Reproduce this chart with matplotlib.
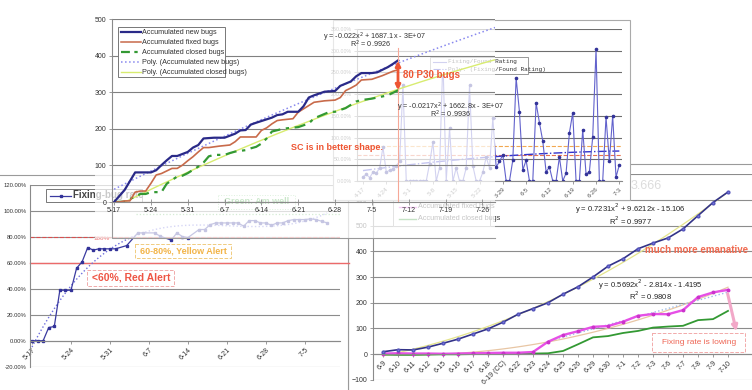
import numpy as np
import matplotlib
matplotlib.use("Agg")
import matplotlib.pyplot as plt
import matplotlib.transforms as mtransforms
from matplotlib.patches import Rectangle, FancyArrowPatch
from matplotlib.lines import Line2D

plt.rcParams['font.family'] = ['Liberation Sans', 'DejaVu Sans']

W, H = 752, 390

# ---- top-left chart: accumulated bugs, x = days since 5-17
tl_ticks = ['5-17', '5-24', '5-31', '6-7', '6-14', '6-21', '6-28', '7-5', '7-12', '7-19', '7-26']
tl_new_days = [0, 2, 4, 5, 7, 8, 9, 10, 11, 12, 14, 15, 16, 17, 18, 19, 21, 23, 24, 25, 26,
               27, 30, 31, 32, 33, 35, 36, 37, 38, 40, 42, 43, 45, 46, 47, 49, 50, 52, 53, 54]
tl_new = [0, 33, 81, 81, 81, 87, 101, 114, 126, 126, 137, 149, 156, 174, 175, 176, 176, 187, 196, 197, 212,
          217, 231, 238, 240, 247, 247, 262, 286, 292, 302, 304, 318, 330, 344, 353, 353, 355, 369, 378, 388]
tl_fixed_days = [0, 1, 2, 3, 4, 5, 6, 7, 8, 9, 11, 12, 13, 14, 15, 16, 17, 18, 20, 22, 23, 24,
                 27, 28, 29, 30, 31, 32, 34, 35, 36, 38, 40, 42, 43, 44, 45, 46, 47, 49, 51, 53, 54]
tl_fixed = [0, 0, 3, 3, 27, 30, 30, 51, 74, 78, 92, 92, 101, 113, 124, 137, 149, 149, 153, 156, 165, 178,
            178, 196, 203, 214, 223, 225, 228, 246, 255, 273, 277, 279, 286, 305, 312, 320, 334, 336, 346, 358, 362]
tl_closed_days = [0, 2, 4, 5, 6, 7, 9, 10, 12, 13, 14, 16, 17, 18, 19, 21, 22, 23, 25, 26, 27, 28,
                  29, 30, 32, 33, 35, 37, 38, 40, 41, 42, 44, 45, 46, 47, 49, 52, 54]
tl_closed = [0, 1, 15, 22, 22, 27, 27, 50, 70, 72, 79, 97, 108, 125, 129, 129, 134, 138, 142, 147, 151, 160,
             174, 193, 200, 202, 205, 215, 229, 241, 247, 247, 257, 266, 275, 279, 283, 292, 306]

# ---- top-right chart: fixing/found rating, daily from 4-17
tr_ticks = ['4-17', '4-24', '5-1', '5-8', '5-15', '5-22', '5-29', '6-5', '6-12', '6-19', '6-26', '7-3']
tr_rating = [0.10, 0.15, 0.08, 0.20, 0.18, 0.30, 0.78, 0.20, 0.25, 0.28, 0.35, 0.45, 2.20, 0, 0, 0,
             0, 0, 0, 0, 0.40, 0.90, 0, 0.30, 2.80, 0, 1.22, 0, 0.30, 0, 0, 0.30, 2.20, 0.35, 0, 0,
             0.20, 0.55, 0.30, 1.45, 0.32, 0.45, 0.60, 0, 0, 0.48, 2.37, 1.59, 0.25, 0.48, 0, 0,
             1.80, 1.34, 0.92, 0.21, 0.32, 0, 0, 0.55, 0, 0.18, 1.11, 1.57, 0, 0, 1.18, 0.16, 0.21,
             1.01, 3.03, 0, 0, 1.47, 0.46, 1.50, 0.09, 0.37]

# ---- bottom-left chart: fixing-bug rate (%), x = days since 5-17
bl_ticks = ['5-17', '5-24', '5-31', '6-7', '6-14', '6-21', '6-28', '7-5']
bl_days = [0, 1, 2, 3, 4, 5, 6, 7, 8, 9, 10, 11, 12, 13, 14, 15, 17, 19, 20, 22, 23, 25, 26, 27, 28,
           30, 31, 32, 33, 34, 35, 36, 37, 38, 39, 40, 41, 42, 43, 44, 45, 46, 47, 48, 49, 50, 51, 52, 53]
bl_rate = [0, 0, 0, 10.2, 11, 39, 39, 39, 56, 61, 72, 70, 71, 71, 71, 71, 73.5, 83.3, 83.3, 83.3, 80.8,
           77.7, 83.3, 80.5, 79.7, 85.9, 85.9, 89.7, 91, 91, 91, 91, 91, 88.5, 92.8, 92.8, 91, 91, 89.2,
           91, 91, 92.8, 93.6, 93.6, 93.6, 94.1, 93.6, 92.3, 91]

# ---- bottom-right chart: accumulated bugs per build day
br_dates = ['6-9', '6-10', '6-11', '6-12', '6-15', '6-16', '6-17', '6-18', '6-19 (CC)', '6-22', '6-23',
            '6-24', '6-25', '6-26', '6-29', '6-30', '7-1', '7-2', '7-3', '7-6', '7-7', '7-8', '7-9', '7-10']
br_new = [9, 17, 16, 27, 42, 58, 78, 98, 124, 155, 177, 200, 233, 262, 300, 342, 371, 410, 432, 452,
          487, 539, 590, 631]
br_fixed = [2, 3, 2, 2, 1, 2, 3, 4, 5, 5, 8, 48, 74, 89, 106, 109, 126, 149, 156, 155, 171, 222, 240, 250]
br_closed = [-2, -3, -3, -2, -1, -1, 0, 1, 1, 2, 2, 3, 12, 38, 65, 70, 82, 90, 103, 107, 110, 132, 136, 168]


fig = plt.figure(figsize=(W / 100, H / 100), dpi=100)
pxT = mtransforms.Affine2D().scale(1 / W, -1 / H).translate(0, 1) + fig.transFigure


def add_ax(x0, y0, x1, y1, z):
    ax = fig.add_axes([x0 / W, 1 - y1 / H, (x1 - x0) / W, (y1 - y0) / H], zorder=z)
    ax.set_facecolor('none')
    for s in ['top', 'right']:
        ax.spines[s].set_visible(False)
    for s in ['left', 'bottom']:
        ax.spines[s].set_color('#8a8a8a')
        ax.spines[s].set_linewidth(0.8)
    ax.tick_params(labelsize=5, length=2.5, width=0.6, color='#8a8a8a', labelcolor='#333333', pad=1.5)
    return ax


def box(ax, x0, y0, x1, y1, fc='white', ec='none', lw=0.8, ls='-', alpha=1.0, z=0):
    ax.add_patch(Rectangle((x0, y0), x1 - x0, y1 - y0, transform=pxT, fc=fc, ec=ec, lw=lw, ls=ls,
                           alpha=alpha, zorder=z, clip_on=False))


def ptext(ax, x, y, s, **kw):
    kw.setdefault('ha', 'center')
    kw.setdefault('va', 'center')
    ax.text(x, y, s, transform=pxT, clip_on=False, **kw)


def pline(ax, xs, ys, **kw):
    ax.add_line(Line2D(xs, ys, transform=pxT, clip_on=False, **kw))


# ================= bottom-right chart (back layer)
ax = add_ax(373, 174, 752, 380, 1)
box(ax, 348, 164, 760, 395, ec='#9a9a9a')
xi = np.arange(len(br_dates))
ax.set_xlim(-0.67, 24.6)
ax.set_ylim(-101, 701)
ax.set_yticks(range(-100, 701, 100))
ax.yaxis.grid(True, color='#8c8c8c', lw=0.8)
ax.spines['bottom'].set_position(('data', 0))
ax.set_xticks(xi)
ax.set_xticklabels(br_dates, rotation=45, ha='right', va='top', rotation_mode='anchor')
xf = np.linspace(1, 24, 100)
ax.plot(xf - 1, np.polyval(np.polyfit(xi + 1, br_new, 2), xf), color='#e4e48c', lw=0.9)
ax.plot(xf - 1, np.polyval(np.polyfit(xi + 1, br_fixed, 2), xf), color='#e8c6a4', lw=0.9)
xl = xi[11:]
ax.plot(xl, np.polyval(np.polyfit(xl, br_fixed[11:], 1), xl), color='#9bbbe8', lw=1, ls=':')
ax.plot(xi, br_closed, color='#339933', lw=1.3)
ax.plot(xi, br_fixed, color='#e650e6', lw=1.7, marker='o', ms=1.8, mfc='#cc33cc', mec='#cc33cc')
ax.plot(xi, br_new, color='#333388', lw=1.2, marker='o', ms=2, mfc='#7777dd', mec='#5555bb')
ptext(ax, 630, 209, 'y = 0.7231x$^2$ + 9.6212x - 15.106', fontsize=5.5, color='#222222')
ptext(ax, 630, 221, 'R$^2$ = 0.9977', fontsize=5.5, color='#222222')
ptext(ax, 650, 285, 'y = 0.5692x$^2$ - 2.814x - 1.4195', fontsize=5.5, color='#222222')
ptext(ax, 650, 296, 'R$^2$ = 0.9808', fontsize=5.5, color='#222222')
ptext(ax, 697, 250, 'much more emanative', fontsize=7, color='#f06a50', fontweight='bold')
box(ax, 652, 333, 745, 352, fc='none', ec='#f2aaaa', ls='--', lw=0.7, z=3)
ptext(ax, 699, 342, 'Fixing rate is lowing', fontsize=6, color='#ee6655')
ax.add_patch(FancyArrowPatch((727, 291), (737, 334), transform=pxT, arrowstyle='-|>', mutation_scale=8,
                             color='#f2a8c8', lw=2.2, clip_on=False, zorder=4))
ptext(ax, 646, 186, '3.666', fontsize=9, color='#dcdcdc')
box(ax, 393, 170, 490, 226, ec='#9a9a9a', lw=0.7, z=3)
pline(ax, [399, 416], [207, 207], color='#e650e6', lw=1, zorder=4)
pline(ax, [399, 416], [219, 219], color='#339933', lw=1, zorder=4)
ptext(ax, 418, 207, 'Accumulated fixed bugs', fontsize=5.2, color='#333333', ha='left', zorder=4)
ptext(ax, 418, 219, 'Accumulated closed bugs', fontsize=5.2, color='#333333', ha='left', zorder=4)

# ================= bottom-left chart
ax = add_ax(30, 185, 340, 367, 2)
box(ax, -5, 175, 348, 395, ec='#9a9a9a')
ax.set_xlim(-0.36, 55.3)
ax.set_ylim(-20.3, 120.3)
ax.set_yticks(range(-20, 121, 20))
ax.set_yticklabels(['%.2f%%' % v for v in range(-20, 121, 20)])
ax.tick_params(axis='y', labelsize=4.2, length=0, pad=2.5)
ax.yaxis.grid(True, color='#8c8c8c', lw=0.8)
ax.spines['bottom'].set_position(('data', 0))
ax.set_xticks(range(0, 50, 7))
ax.set_xticklabels(bl_ticks, rotation=45, ha='right', va='top', rotation_mode='anchor')
ax.axhline(60, color='#ec6a6a', lw=1, xmax=1.03, clip_on=False)
ax.axhline(80, color='#d85050', lw=0.8, ls='--')
ax.plot([18.6, 55.3], [98, 98], color='#66bb66', lw=0.9, ls=':')
dfit = np.linspace(0, 53, 120)
ax.plot(dfit, np.polyval(np.polyfit(bl_days, bl_rate, 3), dfit), color='#6f6fdd', lw=1, ls=':')
ax.plot(bl_days, bl_rate, color='#3a3aa0', lw=0.9, marker='s', ms=2, mfc='#333399', mec='#333399')
ptext(ax, 102, 239, '100%', fontsize=4.5, color='#ee7777')
box(ax, 135, 244, 231, 258, fc='none', ec='#f0cc80', ls='--', lw=0.7, z=3)
ptext(ax, 183, 251, '60-80%, Yellow Alert', fontsize=6.5, color='#f2b448', fontweight='bold')
box(ax, 87, 270, 174, 286, fc='none', ec='#f0aaaa', ls='--', lw=0.7, z=3)
ptext(ax, 131, 278, '<60%, Red Alert', fontsize=7.5, color='#ee5544', fontweight='bold')
box(ax, 218, 195, 295, 209, fc='none', ec='#88cc88', ls=':', lw=0.7, z=3)
ptext(ax, 257, 202, 'Green: Am well', fontsize=6.5, color='#44aa44', fontweight='bold')
box(ax, 46, 189, 142, 202, ec='#777777', lw=0.7, z=3)
pline(ax, [50, 71], [195.5, 195.5], color='#3a3aa0', lw=0.9, zorder=4)
pline(ax, [60.5], [195.5], marker='s', ms=2, color='#333399', zorder=4)
ptext(ax, 73, 195.5, 'Fixing-bug rate', fontsize=7, color='#444444', ha='left', fontweight='bold', zorder=4)

# ================= top-right chart
ax = add_ax(357, 29, 622, 181, 3)
box(ax, 333, 20, 630, 200, ec='#aaaaaa')
ax.set_facecolor('#c4c4c8')
ax.set_xlim(-1.8, 77.8)
ax.set_ylim(0, 3.5)
ax.set_yticks(np.arange(0, 3.51, 0.5))
ax.set_yticklabels(['%.2f%%' % (v * 100) for v in np.arange(0, 3.51, 0.5)])
ax.yaxis.grid(True, color='#6e6e6e', lw=0.8)
ax.tick_params(labelsize=3.8, labelcolor='#555555')
ax.set_xticks(range(0, 78, 7))
ax.set_xticklabels(tr_ticks, rotation=45, ha='right', va='top', rotation_mode='anchor')
ax.tick_params(axis='x', labelsize=4.5)
ax.axhline(0.8, color='#f2a850', lw=0.8, ls='--')
ax.axhline(0.6, color='#e87050', lw=0.8, ls='--')
td = np.arange(len(tr_rating))
ax.plot(td, np.polyval(np.polyfit(td, tr_rating, 2), td), color='#3333cc', lw=1, ls='-.')
ax.plot(td, tr_rating, color='#6262cc', lw=0.8, marker='o', ms=1.6, mfc='#333399', mec='#333399')
box(ax, 430, 57, 528, 74, ec='#888888', lw=0.6, z=3)
pline(ax, [433, 446], [61.5, 61.5], color='#6262cc', lw=0.8, zorder=4)
pline(ax, [433, 446], [69, 69], color='#3333cc', lw=0.8, ls='-.', zorder=4)
ptext(ax, 448, 61.5, 'Fixing/Found Rating', fontsize=4.3, color='#333333', ha='left',
      family='Liberation Mono', zorder=4)
ptext(ax, 448, 69, 'Poly. (Fixing/Found Rating)', fontsize=4.3, color='#333333', ha='left',
      family='Liberation Mono', zorder=4)

# ================= top-left chart (front layer, translucent)
ax = add_ax(112, 19, 495, 202, 4)
box(ax, 95, 12, 495, 238, fc='white', alpha=0.72)
pline(ax, [112, 112, 495], [202, 238, 238], color='#9a9a9a', lw=0.8)
ax.set_xlim(-0.4, 72.4)
ax.set_ylim(0, 501)
ax.set_yticks(range(0, 501, 100))
ax.yaxis.grid(True, color='#808080', lw=0.8)
ax.set_xticks(range(0, 71, 7))
ax.set_xticklabels(tl_ticks)
ax.tick_params(axis='x', direction='inout', length=4)
dd = np.linspace(0, 72.4, 150)
ax.plot(dd, np.polyval(np.polyfit(tl_closed_days, tl_closed, 2), dd), color='#d8ec70', lw=1)
ax.plot(dd, np.polyval(np.polyfit(tl_new_days, tl_new, 2), dd), color='#8888ee', lw=1.1, ls=':')
ax.plot(tl_closed_days, tl_closed, color='#339933', lw=1.6, ls=(0, (5, 2.5, 1.5, 2.5)))
ax.plot(tl_fixed_days, tl_fixed, color='#c86a4a', lw=1.2)
ax.plot(tl_new_days, tl_new, color='#2a2a88', lw=1.6)
pline(ax, [398, 398], [48, 202], color='#f6a898', lw=0.8)
ax.add_patch(FancyArrowPatch((398, 58), (398, 93), transform=pxT, arrowstyle='<|-|>', mutation_scale=7,
                             color='#ee5533', lw=2, clip_on=False, zorder=4))
ptext(ax, 403, 75, '80 P30 bugs', fontsize=7, color='#ee5533', fontweight='bold', ha='left')
ptext(ax, 337, 147, 'SC is in better shape.', fontsize=6.5, color='#ee5533', fontweight='bold')
ptext(ax, 374, 37, 'y = -0.022x$^2$ + 1687.1x - 3E+07', fontsize=5.2, color='#333333')
ptext(ax, 370, 44.5, 'R$^2$ = 0.9926', fontsize=5.2, color='#333333')
ptext(ax, 450, 107, 'y = -0.0217x$^2$ + 1662.8x - 3E+07', fontsize=5.2, color='#333333')
ptext(ax, 450, 114.5, 'R$^2$ = 0.9936', fontsize=5.2, color='#333333')
box(ax, 118, 27, 225, 77, ec='#777777', lw=0.7, z=3)
legend_rows = [('Accumulated new bugs', dict(color='#2a2a88', lw=1.6)),
               ('Accumulated fixed bugs', dict(color='#c86a4a', lw=1.1)),
               ('Accumulated closed bugs', dict(color='#339933', lw=1.6, ls=(0, (4, 2, 1.5, 2)))),
               ('Poly. (Accumulated new bugs)', dict(color='#8888ee', lw=1.1, ls=':')),
               ('Poly. (Accumulated closed bugs)', dict(color='#d8ec70', lw=1))]
for k, (name, st) in enumerate(legend_rows):
    yy = 32 + 10 * k
    pline(ax, [121, 141], [yy, yy], zorder=4, **st)
    ptext(ax, 142, yy, name, fontsize=5.2, color='#333333', ha='left', zorder=4)

fig.savefig('out.png', dpi=100)
